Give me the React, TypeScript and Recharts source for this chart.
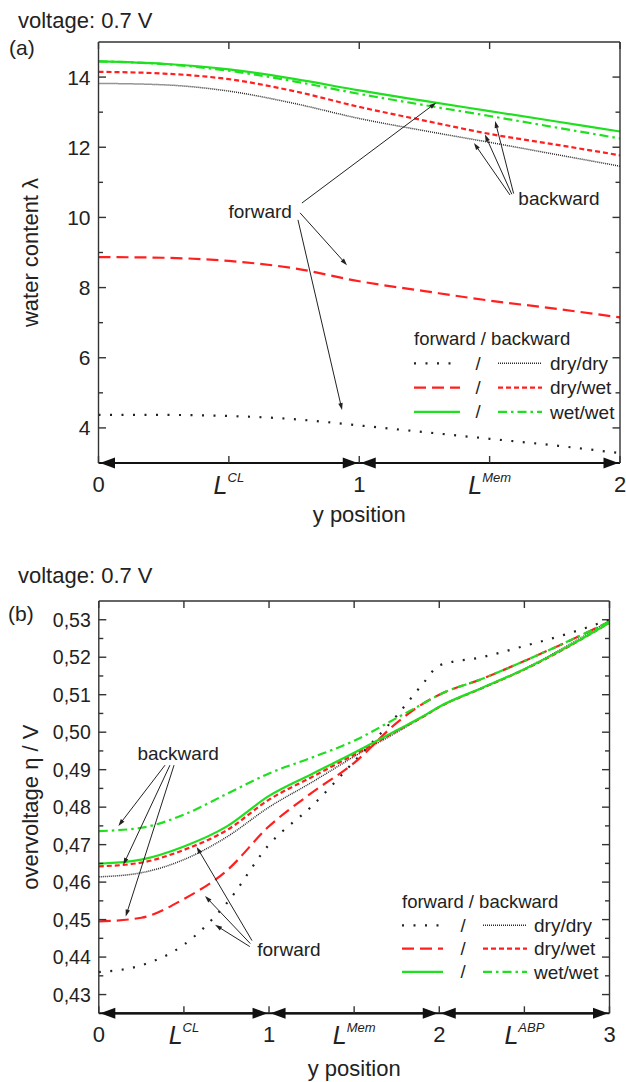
import { Line, LineChart, ReferenceDot, ReferenceLine, XAxis, YAxis } from "recharts";

const FONT = '"Liberation Sans", Arial, sans-serif';
const INK = "#222";
const AXIS = "#333";
const GREEN = "#1fe01f";
const RED = "#ff1f1f";

// (a) water content along y position
const posA = [0, 0.25, 0.5, 0.75, 1, 1.25, 1.5, 1.75, 2];
const lamFwdDryDry = [4.37, 4.37, 4.34, 4.25, 4.07, 3.88, 3.69, 3.5, 3.28];
const lamBwdDryDry = [13.82, 13.78, 13.6, 13.25, 12.82, 12.47, 12.14, 11.8, 11.46];
const lamFwdDryWet = [8.87, 8.85, 8.76, 8.55, 8.18, 7.9, 7.63, 7.4, 7.15];
const lamBwdDryWet = [14.15, 14.1, 13.94, 13.6, 13.15, 12.76, 12.38, 12.08, 11.77];
const lamFwdWetWet = [14.45, 14.38, 14.22, 13.95, 13.62, 13.32, 13.03, 12.74, 12.45];
const lamBwdWetWet = [14.45, 14.37, 14.18, 13.88, 13.52, 13.2, 12.89, 12.57, 12.25];

// (b) overvoltage along y position
const posB = [0, 0.25, 0.5, 0.75, 1, 1.25, 1.5, 1.75, 1.9, 2, 2.25, 2.5, 2.75, 3];
const etaFwdDryDry = [0.436, 0.4378, 0.4433, 0.4543, 0.47, 0.4802, 0.4922, 0.5044, 0.5127, 0.5178, 0.52, 0.523, 0.5262, 0.53];
const etaBwdDryDry = [0.4614, 0.4625, 0.466, 0.472, 0.48, 0.4866, 0.4935, 0.5, 0.504, 0.5067, 0.5118, 0.5169, 0.523, 0.5298];
const etaFwdDryWet = [0.4495, 0.4505, 0.4555, 0.463, 0.4749, 0.4838, 0.4918, 0.5025, 0.5075, 0.51, 0.5142, 0.519, 0.5241, 0.5295];
const etaBwdDryWet = [0.4642, 0.4652, 0.4686, 0.4738, 0.482, 0.488, 0.494, 0.5003, 0.504, 0.5067, 0.5117, 0.5167, 0.5226, 0.5292];
const etaFwdWetWet = [0.4649, 0.466, 0.4695, 0.4748, 0.483, 0.4888, 0.4945, 0.5005, 0.5041, 0.5068, 0.5118, 0.5168, 0.5227, 0.5292];
const etaBwdWetWet = [0.4736, 0.4745, 0.478, 0.4835, 0.489, 0.4932, 0.4977, 0.5038, 0.5075, 0.51, 0.5142, 0.519, 0.5241, 0.5295];

// ticks and region labels
const xTicksA = [0, 0.5, 1, 1.5, 2];
const xTicksB = [0, 0.5, 1, 1.5, 2, 2.5, 3];
const yTicksA = [4, 5, 6, 7, 8, 9, 10, 11, 12, 13, 14];
const yTicksB = [0.43, 0.435, 0.44, 0.445, 0.45, 0.455, 0.46, 0.465, 0.47, 0.475, 0.48, 0.485, 0.49, 0.495, 0.5, 0.505, 0.51, 0.515, 0.52, 0.525, 0.53];
const regionEdges = [0, 1, 2, 3];
const regionNames = ["CL", "Mem", "ABP"];
const legendNames = ["dry/dry", "dry/wet", "wet/wet"];

const SERIES = [
  { key: "fDD", stroke: INK, width: 2.2, dash: "2 9.5" },
  { key: "bDD", stroke: "#2a2a2a", width: 1.5, dash: "1 1" },
  { key: "fDW", stroke: RED, width: 2.2, dash: "12 6" },
  { key: "bDW", stroke: RED, width: 2.2, dash: "5 3" },
  { key: "fWW", stroke: GREEN, width: 2.2, dash: undefined },
  { key: "bWW", stroke: GREEN, width: 2.2, dash: "9 4 2.5 4" },
];

const dataA = posA.map((x, i) => ({
  x,
  fDD: lamFwdDryDry[i],
  bDD: lamBwdDryDry[i],
  fDW: lamFwdDryWet[i],
  bDW: lamBwdDryWet[i],
  fWW: lamFwdWetWet[i],
  bWW: lamBwdWetWet[i],
}));

const dataB = posB.map((x, i) => ({
  x,
  fDD: etaFwdDryDry[i],
  bDD: etaBwdDryDry[i],
  fDW: etaFwdDryWet[i],
  bDW: etaBwdDryWet[i],
  fWW: etaFwdWetWet[i],
  bWW: etaBwdWetWet[i],
}));

function YTick({ y, payload, frame, isMajor, fmt, size }: any) {
  const v = payload.value as number;
  const major = isMajor(v);
  const len = major ? 7.5 : 4.5;
  return (
    <g>
      <line x1={frame.left} x2={frame.left + len} y1={y} y2={y} stroke={AXIS} strokeWidth={1.4} />
      <line x1={frame.right} x2={frame.right - len} y1={y} y2={y} stroke={AXIS} strokeWidth={1.4} />
      {major && (
        <text x={frame.left - 8} y={y} dy="0.36em" textAnchor="end" fontSize={size} fontFamily={FONT} fill={INK}>
          {fmt(v)}
        </text>
      )}
    </g>
  );
}

function XTick({ x, payload, frame }: any) {
  const v = payload.value as number;
  const major = Number.isInteger(v);
  const idx = regionEdges.findIndex((e, i) => i < regionNames.length && e + 0.5 === v);
  return (
    <g>
      <line x1={x} x2={x} y1={frame.bottom} y2={frame.bottom - 7} stroke={AXIS} strokeWidth={1.4} />
      <line x1={x} x2={x} y1={frame.top} y2={frame.top + 7} stroke={AXIS} strokeWidth={1.4} />
      {major && (
        <text x={x} y={frame.bottom + 29} textAnchor="middle" fontSize={22} fontFamily={FONT} fill={INK}>
          {v}
        </text>
      )}
      {idx >= 0 && (
        <text x={x} y={frame.bottom + 30.5} textAnchor="middle" fontSize={25} fontStyle="italic" fontFamily={FONT} fill={INK}>
          L
          <tspan fontSize={13} dy={-12}>
            {regionNames[idx]}
          </tspan>
        </text>
      )}
    </g>
  );
}

function arrowHead(x: number, y: number, a: number, len: number, wide: number) {
  const bx = x - len * Math.cos(a);
  const by = y - len * Math.sin(a);
  const nx = (-Math.sin(a) * wide) / 2;
  const ny = (Math.cos(a) * wide) / 2;
  return `${x},${y} ${bx + nx},${by + ny} ${bx - nx},${by - ny}`;
}

function SpanArrow(p: any) {
  const inset = 1.5;
  const x1 = p.x1 + inset;
  const x2 = p.x2 - inset;
  const y = p.y1;
  return (
    <g>
      <line x1={x1 + 8} x2={x2 - 8} y1={y} y2={y} stroke="#111" strokeWidth={2.2} />
      <polygon points={arrowHead(x2, y, 0, 15, 11)} fill="#111" />
      <polygon points={arrowHead(x1, y, Math.PI, 15, 11)} fill="#111" />
    </g>
  );
}

function PointerArrow(p: any) {
  const a = Math.atan2(p.y2 - p.y1, p.x2 - p.x1);
  return (
    <g>
      <line x1={p.x1} y1={p.y1} x2={p.x2 - 5 * Math.cos(a)} y2={p.y2 - 5 * Math.sin(a)} stroke={INK} strokeWidth={1} />
      <polygon points={arrowHead(p.x2, p.y2, a, 7, 4.5)} fill={INK} />
    </g>
  );
}

function noteText(label: string) {
  return (p: any) => (
    <text x={p.cx} y={p.cy} dy="0.35em" textAnchor="middle" fontSize={19} fontFamily={FONT} fill={INK}>
      {label}
    </text>
  );
}

function seriesLines() {
  return SERIES.map((s) => (
    <Line
      key={s.key}
      dataKey={s.key}
      type="monotone"
      stroke={s.stroke}
      strokeWidth={s.width}
      strokeDasharray={s.dash}
      dot={false}
      activeDot={false}
      isAnimationActive={false}
    />
  ));
}

function PanelA() {
  const frame = { left: 98.5, right: 620, top: 42, bottom: 463 };
  const lo = 3;
  const pointers = [
    [0.78, 10.41, 1.295, 13.27],
    [0.773, 10.13, 0.953, 8.64],
    [0.765, 9.93, 0.934, 4.51],
    [1.578, 10.64, 1.44, 12.12],
    [1.585, 10.66, 1.482, 12.36],
    [1.592, 10.68, 1.521, 12.75],
  ];
  return (
    <LineChart width={626} height={540} data={dataA} margin={{ top: 41, right: 5, bottom: 0, left: 18.5 }}>
      <XAxis
        dataKey="x"
        type="number"
        domain={[0, 2]}
        ticks={xTicksA}
        interval={0}
        height={77}
        axisLine={{ stroke: "#111", strokeWidth: 2 }}
        tickLine={false}
        tick={(p: any) => <XTick {...p} frame={frame} />}
        label={{ value: "y position", position: "insideBottom", offset: 18, fontSize: 22, fontFamily: FONT, fill: INK }}
      />
      <XAxis xAxisId="t" orientation="top" type="number" domain={[0, 2]} height={1} tick={false} tickLine={false} axisLine={{ stroke: AXIS, strokeWidth: 1.4 }} />
      <YAxis
        type="number"
        domain={[3, 15]}
        ticks={yTicksA}
        interval={0}
        width={80}
        axisLine={{ stroke: AXIS, strokeWidth: 1.4 }}
        tickLine={false}
        tick={(p: any) => (
          <YTick {...p} frame={frame} size={21} isMajor={(v: number) => v % 2 === 0} fmt={(v: number) => String(v)} />
        )}
        label={{ value: "water content λ", angle: -90, position: "insideLeft", offset: 11.5, fontSize: 22, fontFamily: FONT, fill: INK, style: { textAnchor: "middle" } }}
      />
      <YAxis yAxisId="r" orientation="right" type="number" domain={[3, 15]} width={1} tick={false} tickLine={false} axisLine={{ stroke: AXIS, strokeWidth: 1.4 }} />
      {seriesLines()}
      {regionEdges.slice(0, 2).map((e) => (
        <ReferenceLine key={e} segment={[{ x: e, y: lo }, { x: e + 1, y: lo }]} shape={SpanArrow} ifOverflow="visible" />
      ))}
      {pointers.map((a, i) => (
        <ReferenceLine key={i} segment={[{ x: a[0], y: a[1] }, { x: a[2], y: a[3] }]} shape={PointerArrow} ifOverflow="visible" />
      ))}
      <ReferenceDot x={0.62} y={10.18} shape={noteText("forward")} ifOverflow="visible" />
      <ReferenceDot x={1.766} y={10.55} shape={noteText("backward")} ifOverflow="visible" />
    </LineChart>
  );
}

function PanelB() {
  const frame = { left: 98.8, right: 609.5, top: 61, bottom: 473.3 };
  const lo = 0.425;
  const pointers = [
    [0.389, 0.4912, 0.115, 0.475],
    [0.418, 0.4912, 0.144, 0.4646],
    [0.442, 0.4912, 0.158, 0.4508],
    [0.9, 0.4444, 0.575, 0.4694],
    [0.89, 0.4436, 0.624, 0.4563],
    [0.887, 0.4428, 0.683, 0.4486],
  ];
  return (
    <LineChart width={626} height={542} data={dataB} margin={{ top: 60, right: 15.5, bottom: 0, left: 18.8 }}>
      <XAxis
        dataKey="x"
        type="number"
        domain={[0, 3]}
        ticks={xTicksB}
        interval={0}
        height={68.7}
        axisLine={{ stroke: "#111", strokeWidth: 2 }}
        tickLine={false}
        tick={(p: any) => <XTick {...p} frame={frame} />}
        label={{ value: "y position", position: "insideBottom", offset: 6, fontSize: 22, fontFamily: FONT, fill: INK }}
      />
      <XAxis xAxisId="t" orientation="top" type="number" domain={[0, 3]} height={1} tick={false} tickLine={false} axisLine={{ stroke: AXIS, strokeWidth: 1.4 }} />
      <YAxis
        type="number"
        domain={[0.425, 0.535]}
        ticks={yTicksB}
        interval={0}
        width={80}
        axisLine={{ stroke: AXIS, strokeWidth: 1.4 }}
        tickLine={false}
        tick={(p: any) => (
          <YTick
            {...p}
            frame={frame}
            size={19.5}
            isMajor={(v: number) => Math.abs(v * 100 - Math.round(v * 100)) < 1e-6}
            fmt={(v: number) => v.toFixed(2).replace(".", ",")}
          />
        )}
        label={{ value: "overvoltage η / V", angle: -90, position: "insideLeft", offset: 11.2, fontSize: 22, fontFamily: FONT, fill: INK, style: { textAnchor: "middle" } }}
      />
      <YAxis yAxisId="r" orientation="right" type="number" domain={[0.425, 0.535]} width={1} tick={false} tickLine={false} axisLine={{ stroke: AXIS, strokeWidth: 1.4 }} />
      {seriesLines()}
      {regionEdges.slice(0, 3).map((e) => (
        <ReferenceLine key={e} segment={[{ x: e, y: lo }, { x: e + 1, y: lo }]} shape={SpanArrow} ifOverflow="visible" />
      ))}
      {pointers.map((a, i) => (
        <ReferenceLine key={i} segment={[{ x: a[0], y: a[1] }, { x: a[2], y: a[3] }]} shape={PointerArrow} ifOverflow="visible" />
      ))}
      <ReferenceDot x={0.466} y={0.4944} shape={noteText("backward")} ifOverflow="visible" />
      <ReferenceDot x={1.117} y={0.4421} shape={noteText("forward")} ifOverflow="visible" />
    </LineChart>
  );
}

function LegendBox({ x, y, gap, fwd, slash, bwd, labelX }: any) {
  return (
    <g fontFamily={FONT} fill={INK}>
      <text x={x} y={y} dy="0.35em" fontSize={18.5}>
        forward / backward
      </text>
      {legendNames.map((name, i) => {
        const f = SERIES[i * 2];
        const b = SERIES[i * 2 + 1];
        const ry = y + (i + 1) * gap;
        return (
          <g key={name}>
            <line x1={fwd[0]} x2={fwd[1]} y1={ry} y2={ry} stroke={f.stroke} strokeWidth={f.width} strokeDasharray={f.dash} />
            <text x={slash} y={ry} dy="0.35em" textAnchor="middle" fontSize={18.5}>
              /
            </text>
            <line x1={bwd[0]} x2={bwd[1]} y1={ry} y2={ry} stroke={b.stroke} strokeWidth={b.width} strokeDasharray={b.dash} />
            <text x={labelX} y={ry} dy="0.35em" fontSize={19}>
              {name}
            </text>
          </g>
        );
      })}
    </g>
  );
}

export default function App() {
  return (
    <div style={{ position: "absolute", left: 0, top: 0, width: 626, height: 1082, background: "#fff" }}>
      <div style={{ position: "absolute", left: 0, top: 0 }}>
        <PanelA />
      </div>
      <div style={{ position: "absolute", left: 0, top: 540 }}>
        <PanelB />
      </div>
      <svg width={626} height={1082} style={{ position: "absolute", left: 0, top: 0, pointerEvents: "none" }}>
        <g fontFamily={FONT} fill={INK}>
          <text x={18} y={20} dy="0.35em" fontSize={22}>
            voltage: 0.7 V
          </text>
          <text x={9} y={48} dy="0.35em" fontSize={21}>
            (a)
          </text>
          <text x={18} y={575} dy="0.35em" fontSize={22}>
            voltage: 0.7 V
          </text>
          <text x={8} y={614} dy="0.35em" fontSize={21}>
            (b)
          </text>
        </g>
        <LegendBox x={414} y={339} gap={24.3} fwd={[414, 460]} slash={478} bwd={[498, 542]} labelX={550} />
        <LegendBox x={402} y={902} gap={23.3} fwd={[402, 443]} slash={463} bwd={[483, 527]} labelX={534} />
      </svg>
    </div>
  );
}
